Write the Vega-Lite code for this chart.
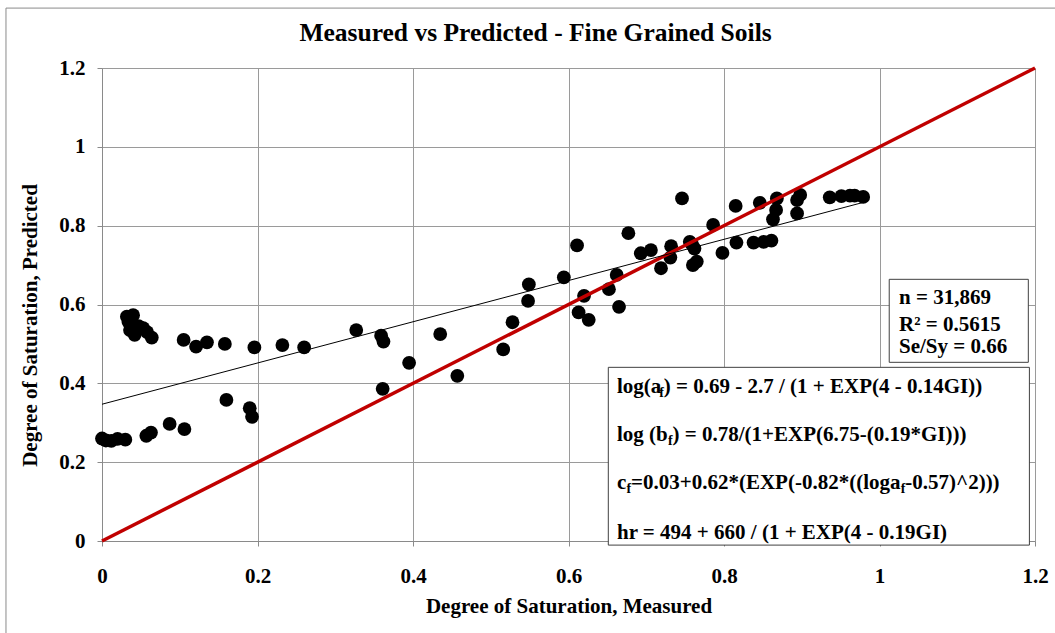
{
  "$schema": "https://vega.github.io/schema/vega-lite/v6.json",
  "width": 933,
  "height": 473,
  "autosize": {"type": "none"},
  "padding": {"left": 102, "top": 68, "right": 20, "bottom": 92},
  "background": "white",
  "config": {
    "view": {"stroke": null},
    "axis": {
      "labelFont": "Liberation Serif",
      "labelFontWeight": "bold",
      "labelFontSize": 21,
      "labelColor": "black",
      "labelFlush": false,
      "titleFont": "Liberation Serif",
      "titleFontWeight": "bold",
      "titleFontSize": 21,
      "titleColor": "black",
      "gridColor": "#9a9a9a",
      "gridWidth": 1,
      "gridOpacity": 1,
      "domainColor": "#8a8a8a",
      "tickColor": "#8a8a8a",
      "tickSize": 5
    },
    "text": {"font": "Liberation Serif", "fontWeight": "bold", "fontSize": 21, "color": "black", "align": "left", "baseline": "middle"}
  },
  "datasets": {
    "pts": [
      {"m": 0.0, "p": 0.26}, {"m": 0.005, "p": 0.255}, {"m": 0.012, "p": 0.254}, {"m": 0.02, "p": 0.259}, {"m": 0.03, "p": 0.257},
      {"m": 0.057, "p": 0.267}, {"m": 0.063, "p": 0.275}, {"m": 0.087, "p": 0.297}, {"m": 0.106, "p": 0.284},
      {"m": 0.16, "p": 0.358}, {"m": 0.19, "p": 0.337}, {"m": 0.193, "p": 0.315},
      {"m": 0.032, "p": 0.569}, {"m": 0.04, "p": 0.573}, {"m": 0.034, "p": 0.556}, {"m": 0.036, "p": 0.535},
      {"m": 0.042, "p": 0.523}, {"m": 0.047, "p": 0.545}, {"m": 0.053, "p": 0.54}, {"m": 0.058, "p": 0.53},
      {"m": 0.064, "p": 0.516}, {"m": 0.105, "p": 0.51}, {"m": 0.121, "p": 0.493}, {"m": 0.135, "p": 0.504},
      {"m": 0.158, "p": 0.5}, {"m": 0.196, "p": 0.491}, {"m": 0.232, "p": 0.497}, {"m": 0.26, "p": 0.491},
      {"m": 0.327, "p": 0.535}, {"m": 0.359, "p": 0.521}, {"m": 0.362, "p": 0.506}, {"m": 0.361, "p": 0.386},
      {"m": 0.395, "p": 0.452}, {"m": 0.435, "p": 0.525}, {"m": 0.457, "p": 0.419}, {"m": 0.516, "p": 0.486},
      {"m": 0.528, "p": 0.555}, {"m": 0.548, "p": 0.609}, {"m": 0.549, "p": 0.651}, {"m": 0.594, "p": 0.669},
      {"m": 0.611, "p": 0.75}, {"m": 0.613, "p": 0.58}, {"m": 0.62, "p": 0.622}, {"m": 0.626, "p": 0.561},
      {"m": 0.652, "p": 0.639}, {"m": 0.662, "p": 0.675}, {"m": 0.665, "p": 0.594}, {"m": 0.677, "p": 0.781},
      {"m": 0.693, "p": 0.73}, {"m": 0.706, "p": 0.738}, {"m": 0.719, "p": 0.692}, {"m": 0.731, "p": 0.719},
      {"m": 0.732, "p": 0.748}, {"m": 0.746, "p": 0.869}, {"m": 0.756, "p": 0.759}, {"m": 0.759, "p": 0.752},
      {"m": 0.762, "p": 0.742}, {"m": 0.76, "p": 0.7}, {"m": 0.765, "p": 0.709}, {"m": 0.786, "p": 0.802},
      {"m": 0.798, "p": 0.731}, {"m": 0.815, "p": 0.85}, {"m": 0.816, "p": 0.757}, {"m": 0.838, "p": 0.757},
      {"m": 0.851, "p": 0.759}, {"m": 0.861, "p": 0.762}, {"m": 0.846, "p": 0.858}, {"m": 0.868, "p": 0.869},
      {"m": 0.867, "p": 0.84}, {"m": 0.863, "p": 0.816}, {"m": 0.894, "p": 0.865}, {"m": 0.898, "p": 0.878},
      {"m": 0.894, "p": 0.831}, {"m": 0.936, "p": 0.872}, {"m": 0.951, "p": 0.875}, {"m": 0.962, "p": 0.876},
      {"m": 0.968, "p": 0.876}, {"m": 0.979, "p": 0.873}
    ],
    "equality": [{"m": 0, "p": 0}, {"m": 1.2, "p": 1.2}],
    "trend": [{"m": 0, "p": 0.347}, {"m": 0.979, "p": 0.859}],
    "frame": [{"x0": -0.1235, "x1": 1.4, "y0": 1.352, "y1": -0.4}],
    "boxes": [
      {"x0": 1.0125, "x1": 1.1914, "y0": 0.6639, "y1": 0.4533},
      {"x0": 0.6512, "x1": 1.1928, "y0": 0.4406, "y1": -0.0104}
    ],
    "heading": [{"t": "Measured vs Predicted - Fine Grained Soils", "tx": 0.5576, "ty": 1.2887}],
    "labels": [
      {"t": "n = 31,869", "tx": 1.0251, "ty": 0.6157, "sub": false},
      {"t": "R² = 0.5615", "tx": 1.0251, "ty": 0.5485, "sub": false},
      {"t": "Se/Sy = 0.66", "tx": 1.0251, "ty": 0.4929, "sub": false},
      {"t": "log(a", "tx": 0.66238, "ty": 0.3914, "sub": false},
      {"t": "f", "tx": 0.71672, "ty": 0.3914, "sub": true},
      {"t": ") = 0.69 - 2.7 / (1 + EXP(4 - 0.14GI))", "tx": 0.72251, "ty": 0.3914, "sub": false},
      {"t": "log (b", "tx": 0.66238, "ty": 0.2689, "sub": false},
      {"t": "f", "tx": 0.72797, "ty": 0.2689, "sub": true},
      {"t": ") = 0.78/(1+EXP(6.75-(0.19*GI)))", "tx": 0.73376, "ty": 0.2689, "sub": false},
      {"t": "c", "tx": 0.66238, "ty": 0.1464, "sub": false},
      {"t": "f", "tx": 0.6746, "ty": 0.1464, "sub": true},
      {"t": "=0.03+0.62*(EXP(-0.82*((loga", "tx": 0.68039, "ty": 0.1464, "sub": false},
      {"t": "f", "tx": 1.02727, "ty": 0.1464, "sub": true},
      {"t": "-0.57)^2)))", "tx": 1.03305, "ty": 0.1464, "sub": false},
      {"t": "hr = 494 + 660 / (1 + EXP(4 - 0.19GI)", "tx": 0.66238, "ty": 0.0195, "sub": false}
    ]
  },
  "layer": [
    {
      "data": {"name": "pts"},
      "mark": {"type": "circle", "size": 190, "color": "black", "opacity": 1},
      "encoding": {
        "x": {
          "field": "m", "type": "quantitative", "title": "Degree of Saturation, Measured",
          "scale": {"domain": [0, 1.2], "nice": false, "zero": false},
          "axis": {"values": [0, 0.2, 0.4, 0.6, 0.8, 1, 1.2], "format": ".1~f", "labelPadding": 19, "titleY": 65, "titleBaseline": "middle"}
        },
        "y": {
          "field": "p", "type": "quantitative", "title": "Degree of Saturation, Predicted",
          "scale": {"domain": [0, 1.2], "nice": false, "zero": false},
          "axis": {"values": [0, 0.2, 0.4, 0.6, 0.8, 1, 1.2], "format": ".1~f", "labelPadding": 12, "titleX": -72, "titleY": 257, "titleAlign": "center", "titleBaseline": "middle", "titleAngle": -90}
        }
      }
    },
    {
      "data": {"name": "equality"},
      "mark": {"type": "line", "color": "#c00000", "strokeWidth": 3.5},
      "encoding": {
        "x": {"field": "m", "type": "quantitative", "title": "Degree of Saturation, Measured"},
        "y": {"field": "p", "type": "quantitative", "title": "Degree of Saturation, Predicted"}
      }
    },
    {
      "data": {"name": "trend"},
      "mark": {"type": "line", "color": "black", "strokeWidth": 1},
      "encoding": {
        "x": {"field": "m", "type": "quantitative", "title": "Degree of Saturation, Measured"},
        "y": {"field": "p", "type": "quantitative", "title": "Degree of Saturation, Predicted"}
      }
    },
    {
      "data": {"name": "boxes"},
      "mark": {"type": "rect", "fill": "white", "stroke": "#404040", "strokeWidth": 1},
      "encoding": {
        "x": {"field": "x0", "type": "quantitative", "title": "Degree of Saturation, Measured"},
        "x2": {"field": "x1"},
        "y": {"field": "y0", "type": "quantitative", "title": "Degree of Saturation, Predicted"},
        "y2": {"field": "y1"}
      }
    },
    {
      "data": {"name": "frame"},
      "mark": {"type": "rect", "fillOpacity": 0, "stroke": "#8a8a8a", "strokeWidth": 1},
      "encoding": {
        "x": {"field": "x0", "type": "quantitative", "title": "Degree of Saturation, Measured"},
        "x2": {"field": "x1"},
        "y": {"field": "y0", "type": "quantitative", "title": "Degree of Saturation, Predicted"},
        "y2": {"field": "y1"}
      }
    },
    {
      "data": {"name": "heading"},
      "mark": {"type": "text", "align": "center", "fontSize": 25.5},
      "encoding": {
        "x": {"field": "tx", "type": "quantitative", "title": "Degree of Saturation, Measured"},
        "y": {"field": "ty", "type": "quantitative", "title": "Degree of Saturation, Predicted"},
        "text": {"field": "t"}
      }
    },
    {
      "data": {"name": "labels"},
      "transform": [{"filter": "!datum.sub"}],
      "mark": {"type": "text"},
      "encoding": {
        "x": {"field": "tx", "type": "quantitative", "title": "Degree of Saturation, Measured"},
        "y": {"field": "ty", "type": "quantitative", "title": "Degree of Saturation, Predicted"},
        "text": {"field": "t"}
      }
    },
    {
      "data": {"name": "labels"},
      "transform": [{"filter": "datum.sub"}],
      "mark": {"type": "text", "fontSize": 14, "dy": 6},
      "encoding": {
        "x": {"field": "tx", "type": "quantitative", "title": "Degree of Saturation, Measured"},
        "y": {"field": "ty", "type": "quantitative", "title": "Degree of Saturation, Predicted"},
        "text": {"field": "t"}
      }
    }
  ]
}
